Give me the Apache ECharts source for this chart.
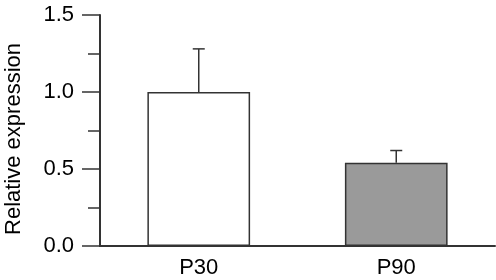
<!DOCTYPE html>
<html>
<head>
<meta charset="utf-8">
<script src="https://cdn.jsdelivr.net/npm/echarts@6/dist/echarts.min.js"></script>
<style>
  html, body { margin: 0; padding: 0; background: #fff; }
  #chart { width: 496px; height: 280px; }
</style>
</head>
<body>
<div id="chart"></div>
<script>
// data
const categories = ["P30", "P90"];
const means = [1.0, 0.54];
const errors = [0.28, 0.08]; // upper error only
const barColors = ["#ffffff", "#9a9a9a"];
const yTicks = [0, 0.5, 1.0, 1.5];

const font = "'Liberation Sans', Arial, Helvetica, sans-serif";
const axisColor = "#333";

const chart = echarts.init(document.getElementById("chart"));

const option = {
  animation: false,
  grid: { left: 100, right: 1, top: 15, bottom: 34 },
  xAxis: {
    type: "category",
    data: categories,
    axisLine: { lineStyle: { color: axisColor, width: 2 } },
    axisTick: { show: false },
    axisLabel: { color: "#000", fontSize: 22, fontFamily: font, margin: 11 },
  },
  yAxis: {
    type: "value",
    min: yTicks[0],
    max: yTicks[yTicks.length - 1],
    interval: 0.5,
    axisLine: { show: true, lineStyle: { color: axisColor, width: 2 } },
    axisTick: { show: true, length: 18, lineStyle: { color: axisColor, width: 1.5 } },
    minorTick: { show: true, splitNumber: 2, length: 12, lineStyle: { color: axisColor, width: 1.5 } },
    splitLine: { show: false },
    axisLabel: {
      color: "#000",
      fontSize: 22,
      fontFamily: font,
      margin: 26,
      formatter: (v) => v.toFixed(1),
    },
  },
  graphic: [
    {
      type: "text",
      left: 3,
      top: 43,
      rotation: Math.PI / 2,
      originX: 0,
      originY: 0,
      style: {
        text: "Relative expression",
        font: "22px " + font,
        fill: "#000",
      },
    },
  ],
  series: [
    {
      type: "bar",
      barWidth: "52%",
      data: means.map((v, i) => ({
        value: v,
        itemStyle: { color: barColors[i], borderColor: axisColor, borderWidth: 1.5 },
      })),
      z: 2,
    },
    {
      // error bars (upper only)
      type: "custom",
      z: 1,
      data: means.map((v, i) => [i, v, v + errors[i]]),
      renderItem: (params, api) => {
        const base = api.coord([api.value(0), api.value(1)]);
        const top = api.coord([api.value(0), api.value(2)]);
        const cap = 6;
        const style = { stroke: axisColor, lineWidth: 1.5 };
        return {
          type: "group",
          children: [
            { type: "line", shape: { x1: base[0], y1: base[1], x2: top[0], y2: top[1] }, style },
            { type: "line", shape: { x1: top[0] - cap, y1: top[1], x2: top[0] + cap, y2: top[1] }, style },
          ],
        };
      },
    },
  ],
};

chart.setOption(option);
</script>
</body>
</html>
